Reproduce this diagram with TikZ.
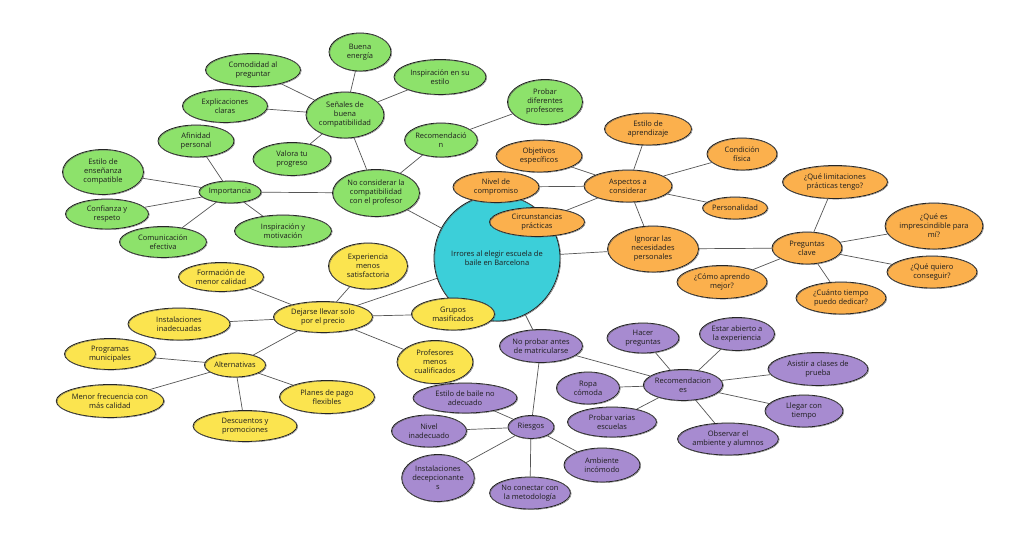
\documentclass[tikz,border=0pt]{standalone}
\usepackage{fontspec}
\setmainfont{Open Sans}
\usetikzlibrary{shapes.geometric}
\definecolor{verde}{HTML}{8DE26B}
\definecolor{naranja}{HTML}{FBB04D}
\definecolor{amarillo}{HTML}{FBE44F}
\definecolor{lila}{HTML}{A78BD0}
\definecolor{turquesa}{HTML}{3CCFD9}
\definecolor{tinta}{HTML}{1E1E1E}
\tikzset{
  idea/.style={ellipse,draw=tinta,line width=0.8pt,inner sep=0pt,align=center,text=tinta,font=\fontsize{7.5}{9}\selectfont,
    postaction={draw=tinta!70,line width=0.4pt,transform canvas={xshift=0.8pt,yshift=-0.6pt}}},
  sz/.style 2 args={minimum width=#1pt,minimum height=#2pt},
  gr/.style={idea,fill=verde},
  nj/.style={idea,fill=naranja},
  am/.style={idea,fill=amarillo},
  li/.style={idea,fill=lila},
  rama/.style={draw=tinta!75,line width=0.7pt}
}
\begin{document}
\begin{tikzpicture}[x=1pt,y=-1pt]
\useasboundingbox[fill=white] (0,0) rectangle (1024,537);
% centro
\node[idea,circle,fill=turquesa,minimum size=126pt] (centro) at (497,258) {Irrores al elegir escuela de\\baile en Barcelona};
% verde
\node[gr,sz={87}{47}] (nocomp) at (376,193) {No considerar la\\compatibilidad\\con el profesor};
\node[gr,sz={78}{46}] (senales) at (345,115) {Señales de\\buena\\compatibilidad};
\node[gr,sz={62}{38}] (energia) at (360,52) {Buena\\energía};
\node[gr,sz={92}{35}] (inspest) at (440,77) {Inspiración en su\\estilo};
\node[gr,sz={95}{33}] (comodidad) at (253,70) {Comodidad al\\preguntar};
\node[gr,sz={85}{33}] (explic) at (225,106) {Explicaciones\\claras};
\node[gr,sz={78}{33}] (valora) at (292,159) {Valora tu\\progreso};
\node[gr,sz={70}{34}] (recom) at (441,140) {Recomendació\\n};
\node[gr,sz={75}{45}] (probprof) at (545,102) {Probar\\diferentes\\profesores};
\node[gr,sz={62}{22}] (importancia) at (230,192) {Importancia};
\node[gr,sz={76}{32}] (afinidad) at (196,141) {Afinidad\\personal};
\node[gr,sz={81}{45}] (ensenanza) at (103,172) {Estilo de\\enseñanza\\compatible};
\node[gr,sz={83}{30}] (confianza) at (107,214) {Confianza y\\respeto};
\node[gr,sz={87}{31}] (comunic) at (163,242) {Comunicación\\efectiva};
\node[gr,sz={97}{32}] (motiv) at (283,231) {Inspiración y\\motivación};
% naranja
\node[nj,sz={91}{46}] (ignorar) at (653,249) {Ignorar las\\necesidades\\personales};
\node[nj,sz={88}{32}] (aspectos) at (628,186) {Aspectos a\\considerar};
\node[nj,sz={87}{32}] (aprendizaje) at (648,129) {Estilo de\\aprendizaje};
\node[nj,sz={86}{32}] (objetivos) at (539,156) {Objetivos\\específicos};
\node[nj,sz={70}{32}] (condicion) at (742,154) {Condición\\física};
\node[nj,sz={86}{31}] (compromiso) at (496,187) {Nivel de\\compromiso};
\node[nj,sz={63}{22}] (personalidad) at (735,208) {Personalidad};
\node[nj,sz={95}{29}] (circunst) at (537,222) {Circunstancias\\prácticas};
\node[nj,sz={70}{32}] (preguntas) at (807,248) {Preguntas\\clave};
\node[nj,sz={105}{33}] (limitac) at (835,182) {¿Qué limitaciones\\prácticas tengo?};
\node[nj,sz={95}{46}] (imprescind) at (934,226) {¿Qué es\\imprescindible para\\mí?};
\node[nj,sz={90}{32}] (conseguir) at (932,272) {¿Qué quiero\\conseguir?};
\node[nj,sz={90}{32}] (tiempo) at (841,298) {¿Cuánto tiempo\\puedo dedicar?};
\node[nj,sz={90}{33}] (comoapr) at (722,282) {¿Cómo aprendo\\mejor?};
% amarillo
\node[am,sz={99}{31}] (precio) at (323,317) {Dejarse llevar solo\\por el precio};
\node[am,sz={79}{46}] (experiencia) at (368,266) {Experiencia\\menos\\satisfactoria};
\node[am,sz={85}{29}] (formacion) at (221,277) {Formación de\\menor calidad};
\node[am,sz={83}{32}] (grupos) at (453,314) {Grupos\\masificados};
\node[am,sz={102}{32}] (instinad) at (179,324) {Instalaciones\\inadecuadas};
\node[am,sz={76}{43}] (profmenos) at (435,362) {Profesores\\menos\\cualificados};
\node[am,sz={61}{24}] (alternativas) at (235,365) {Alternativas};
\node[am,sz={91}{31}] (municip) at (110,354) {Programas\\municipales};
\node[am,sz={105}{33}] (frecuencia) at (110,401) {Menor frecuencia con\\más calidad};
\node[am,sz={95}{33}] (planes) at (327,397) {Planes de pago\\flexibles};
\node[am,sz={104}{31}] (descuentos) at (245,426) {Descuentos y\\promociones};
% lila
\node[li,sz={83}{33}] (noprobar) at (541,346) {No probar antes\\de matricularse};
\node[li,sz={77}{31}] (recomend) at (683,385) {Recomendacion\\es};
\node[li,sz={72}{30}] (hacer) at (643,338) {Hacer\\preguntas};
\node[li,sz={75}{33}] (abierto) at (737,334) {Estar abierto a\\la experiencia};
\node[li,sz={63}{32}] (ropa) at (588,388) {Ropa\\cómoda};
\node[li,sz={100}{33}] (asistir) at (818,369) {Asistir a clases de\\prueba};
\node[li,sz={78}{32}] (llegar) at (804,411) {Llegar con\\tiempo};
\node[li,sz={89}{30}] (varias) at (612,422) {Probar varias\\escuelas};
\node[li,sz={92}{32}] (observar) at (728,439) {Observar el\\ambiente y alumnos};
\node[li,sz={46}{23}] (riesgos) at (531,427) {Riesgos};
\node[li,sz={104}{30}] (estbaile) at (465,398) {Estilo de baile no\\adecuado};
\node[li,sz={75}{32}] (nivel) at (429,431) {Nivel\\inadecuado};
\node[li,sz={76}{34}] (incomodo) at (602,465) {Ambiente\\incómodo};
\node[li,sz={71}{47}] (decepc) at (438,478) {Instalaciones\\decepcionante\\s};
\node[li,sz={80}{32}] (metodo) at (530,493) {No conectar con\\la metodología};
% ramas
\draw[rama] (centro)--(nocomp); \draw[rama] (centro)--(precio); \draw[rama] (centro)--(ignorar); \draw[rama] (centro)--(noprobar);
\foreach \a/\b in {nocomp/senales,nocomp/recom,nocomp/importancia,senales/energia,senales/inspest,senales/comodidad,senales/explic,senales/valora,recom/probprof,importancia/afinidad,importancia/ensenanza,importancia/confianza,importancia/comunic,importancia/motiv}
  \draw[rama] (\a)--(\b);
\foreach \a/\b in {ignorar/aspectos,ignorar/preguntas,aspectos/aprendizaje,aspectos/objetivos,aspectos/condicion,aspectos/compromiso,aspectos/personalidad,aspectos/circunst,preguntas/limitac,preguntas/imprescind,preguntas/conseguir,preguntas/tiempo,preguntas/comoapr}
  \draw[rama] (\a)--(\b);
\foreach \a/\b in {precio/experiencia,precio/formacion,precio/grupos,precio/instinad,precio/profmenos,precio/alternativas,alternativas/municip,alternativas/frecuencia,alternativas/planes,alternativas/descuentos}
  \draw[rama] (\a)--(\b);
\foreach \a/\b in {noprobar/recomend,noprobar/riesgos,recomend/hacer,recomend/abierto,recomend/ropa,recomend/asistir,recomend/llegar,recomend/varias,recomend/observar,riesgos/estbaile,riesgos/nivel,riesgos/incomodo,riesgos/decepc,riesgos/metodo}
  \draw[rama] (\a)--(\b);
\end{tikzpicture}
\end{document}
